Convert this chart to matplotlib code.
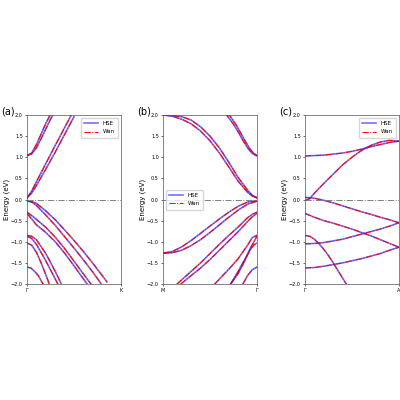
import matplotlib
matplotlib.use("Agg")
import matplotlib.pyplot as plt

# Panel (a): Gamma -> K ; each band: (k list, E list)
bands_a = [
    ([0,0.05,0.1,0.2,0.3,0.4,0.5], [0.03,0.2,0.42,0.85,1.28,1.7,2.12]),
    ([0,0.05,0.1,0.2,0.3,0.4,0.5], [0.05,0.15,0.33,0.72,1.12,1.54,1.96]),
    ([0,0.05,0.1,0.15,0.2,0.25,0.3], [1.03,1.1,1.3,1.55,1.8,2.02,2.2]),
    ([0,0.05,0.1,0.15,0.2,0.25,0.3], [1.05,1.08,1.22,1.44,1.67,1.9,2.1]),
    ([0,0.05,0.1,0.2,0.3,0.4,0.5,0.6,0.7,0.8,0.85], [-0.03,-0.06,-0.14,-0.37,-0.61,-0.88,-1.15,-1.43,-1.72,-2.03,-2.2]),
    ([0,0.05,0.1,0.2,0.3,0.4,0.5,0.6,0.7,0.8,0.85], [-0.04,-0.05,-0.09,-0.27,-0.48,-0.72,-0.97,-1.23,-1.51,-1.8,-1.95]),
    ([0,0.05,0.1,0.2,0.3,0.4,0.5,0.6,0.7], [-0.3,-0.38,-0.47,-0.66,-0.89,-1.16,-1.46,-1.76,-2.06]),
    ([0,0.05,0.1,0.2,0.3,0.4,0.5,0.6,0.7], [-0.33,-0.46,-0.6,-0.78,-1.0,-1.27,-1.57,-1.88,-2.18]),
    ([0,0.05,0.1,0.2,0.3,0.35,0.4], [-0.85,-0.87,-0.95,-1.28,-1.7,-1.93,-2.15]),
    ([0,0.05,0.1,0.2,0.3,0.35,0.4], [-0.87,-0.92,-1.06,-1.45,-1.88,-2.1,-2.3]),
    ([0,0.05,0.1,0.15,0.2,0.25], [-1.03,-1.08,-1.25,-1.5,-1.78,-2.08]),
    ([0,0.04,0.08,0.12,0.17,0.2], [-1.6,-1.62,-1.7,-1.8,-2.0,-2.12]),
]
# Panel (b): M -> Gamma
bands_b = [
    ([0,0.1,0.2,0.3,0.4,0.5,0.6,0.7,0.8,0.9,0.95,1.0], [2.0,1.99,1.96,1.88,1.72,1.5,1.22,0.88,0.52,0.22,0.1,0.03]),
    ([0,0.1,0.2,0.3,0.4,0.5,0.6,0.7,0.8,0.9,0.95,1.0], [2.0,1.97,1.9,1.79,1.62,1.39,1.1,0.77,0.43,0.17,0.08,0.05]),
    ([0.66,0.75,0.8,0.85,0.9,0.95,1.0], [2.05,1.78,1.6,1.4,1.22,1.09,1.03]),
    ([0.69,0.78,0.83,0.88,0.93,0.97,1.0], [2.05,1.76,1.56,1.36,1.18,1.08,1.05]),
    ([0,0.1,0.2,0.3,0.4,0.5,0.6,0.7,0.8,0.9,1.0], [-1.27,-1.23,-1.12,-0.97,-0.8,-0.63,-0.46,-0.3,-0.16,-0.06,-0.03]),
    ([0,0.1,0.2,0.3,0.4,0.5,0.6,0.7,0.8,0.9,1.0], [-1.27,-1.26,-1.2,-1.09,-0.95,-0.78,-0.6,-0.42,-0.25,-0.11,-0.04]),
    ([0.15,0.3,0.4,0.5,0.6,0.7,0.8,0.9,0.95,1.0], [-2.0,-1.7,-1.5,-1.28,-1.06,-0.85,-0.65,-0.43,-0.35,-0.3]),
    ([0.19,0.3,0.4,0.5,0.6,0.7,0.8,0.9,0.95,1.0], [-2.0,-1.8,-1.62,-1.42,-1.2,-0.98,-0.76,-0.52,-0.41,-0.33]),
    ([0.55,0.7,0.8,0.9,0.95,1.0], [-2.0,-1.65,-1.4,-1.08,-0.9,-0.85]),
    ([0.72,0.8,0.87,0.93,0.97,1.0], [-2.0,-1.7,-1.42,-1.18,-1.07,-1.03]),
    ([0.72,0.8,0.87,0.93,1.0], [-2.0,-1.75,-1.45,-1.15,-0.87]),
    ([0.85,0.9,0.95,1.0], [-2.0,-1.8,-1.66,-1.6]),
]
# Panel (c): Gamma -> A
bands_c = [
    ([0,0.2,0.4,0.5,0.6,0.7,0.8,0.9,1.0], [1.03,1.05,1.1,1.14,1.19,1.25,1.3,1.35,1.38]),
    ([0,0.05,0.1,0.2,0.3,0.4,0.5,0.6,0.7,0.8,0.9,1.0], [-0.03,0.02,0.15,0.38,0.6,0.82,1.0,1.16,1.28,1.36,1.4,1.38]),
    ([0,0.1,0.2,0.3,0.4,0.5,0.6,0.7,0.8,0.9,1.0], [0.05,0.03,-0.02,-0.08,-0.15,-0.22,-0.29,-0.35,-0.42,-0.48,-0.55]),
    ([0,0.1,0.2,0.3,0.4,0.5,0.6,0.7,0.8,0.9,1.0], [-0.33,-0.42,-0.5,-0.56,-0.63,-0.7,-0.78,-0.86,-0.95,-1.04,-1.13]),
    ([0,0.1,0.2,0.3,0.4,0.5,0.6,0.7,0.8,0.9,1.0], [-1.05,-1.04,-1.02,-0.98,-0.94,-0.88,-0.82,-0.76,-0.7,-0.63,-0.55]),
    ([0,0.1,0.2,0.3,0.4,0.5,0.6,0.7,0.8,0.9,1.0], [-1.62,-1.61,-1.58,-1.54,-1.5,-1.45,-1.4,-1.34,-1.28,-1.2,-1.13]),
    ([0,0.05,0.1,0.15,0.2,0.25,0.3,0.35,0.4,0.45,0.5], [-0.85,-0.87,-0.94,-1.05,-1.18,-1.33,-1.5,-1.68,-1.86,-2.04,-2.2]),
]
panels = [
    ("(a)", bands_a, ["Γ", "K"], "upper right", 27),
    ("(b)", bands_b, ["M", "Γ"], "center left", 163),
    ("(c)", bands_c, ["Γ", "A"], "upper right", 305),
]

fig = plt.figure(figsize=(4, 4), dpi=100)
for label, bands, xt, loc, left in panels:
    ax = fig.add_axes([left/400, 116/400, 94/400, 169/400])
    for i, (k, e) in enumerate(bands):
        ax.plot(k, e, color="blue", alpha=0.55, lw=1.2, label="HSE" if i == 0 else None)
        ax.plot(k, e, color="red", ls="-.", lw=0.7, label="Wan" if i == 0 else None)
    ax.axhline(0, color="gray", ls="-.", lw=0.7)
    ax.set_xlim(0, 1)
    ax.set_ylim(-2, 2)
    ax.set_xticks([0, 1])
    ax.set_xticklabels(xt, fontsize=5)
    ax.set_yticks([-2, -1.5, -1, -0.5, 0, 0.5, 1, 1.5, 2])
    ax.tick_params(labelsize=3.5, length=1.5, width=0.4, pad=1.5)
    ax.set_ylabel("Energy (eV)", fontsize=5, labelpad=1)
    for s in ax.spines.values():
        s.set_linewidth(0.5)
        s.set_color("#555555")
    ax.legend(loc=loc, fontsize=4, handlelength=2.5, borderpad=0.6, labelspacing=0.6)
    fig.text((left - 26)/400, 1 - 112/400, label, fontsize=7, ha="left", va="center")
fig.savefig("out.png", dpi=100)
